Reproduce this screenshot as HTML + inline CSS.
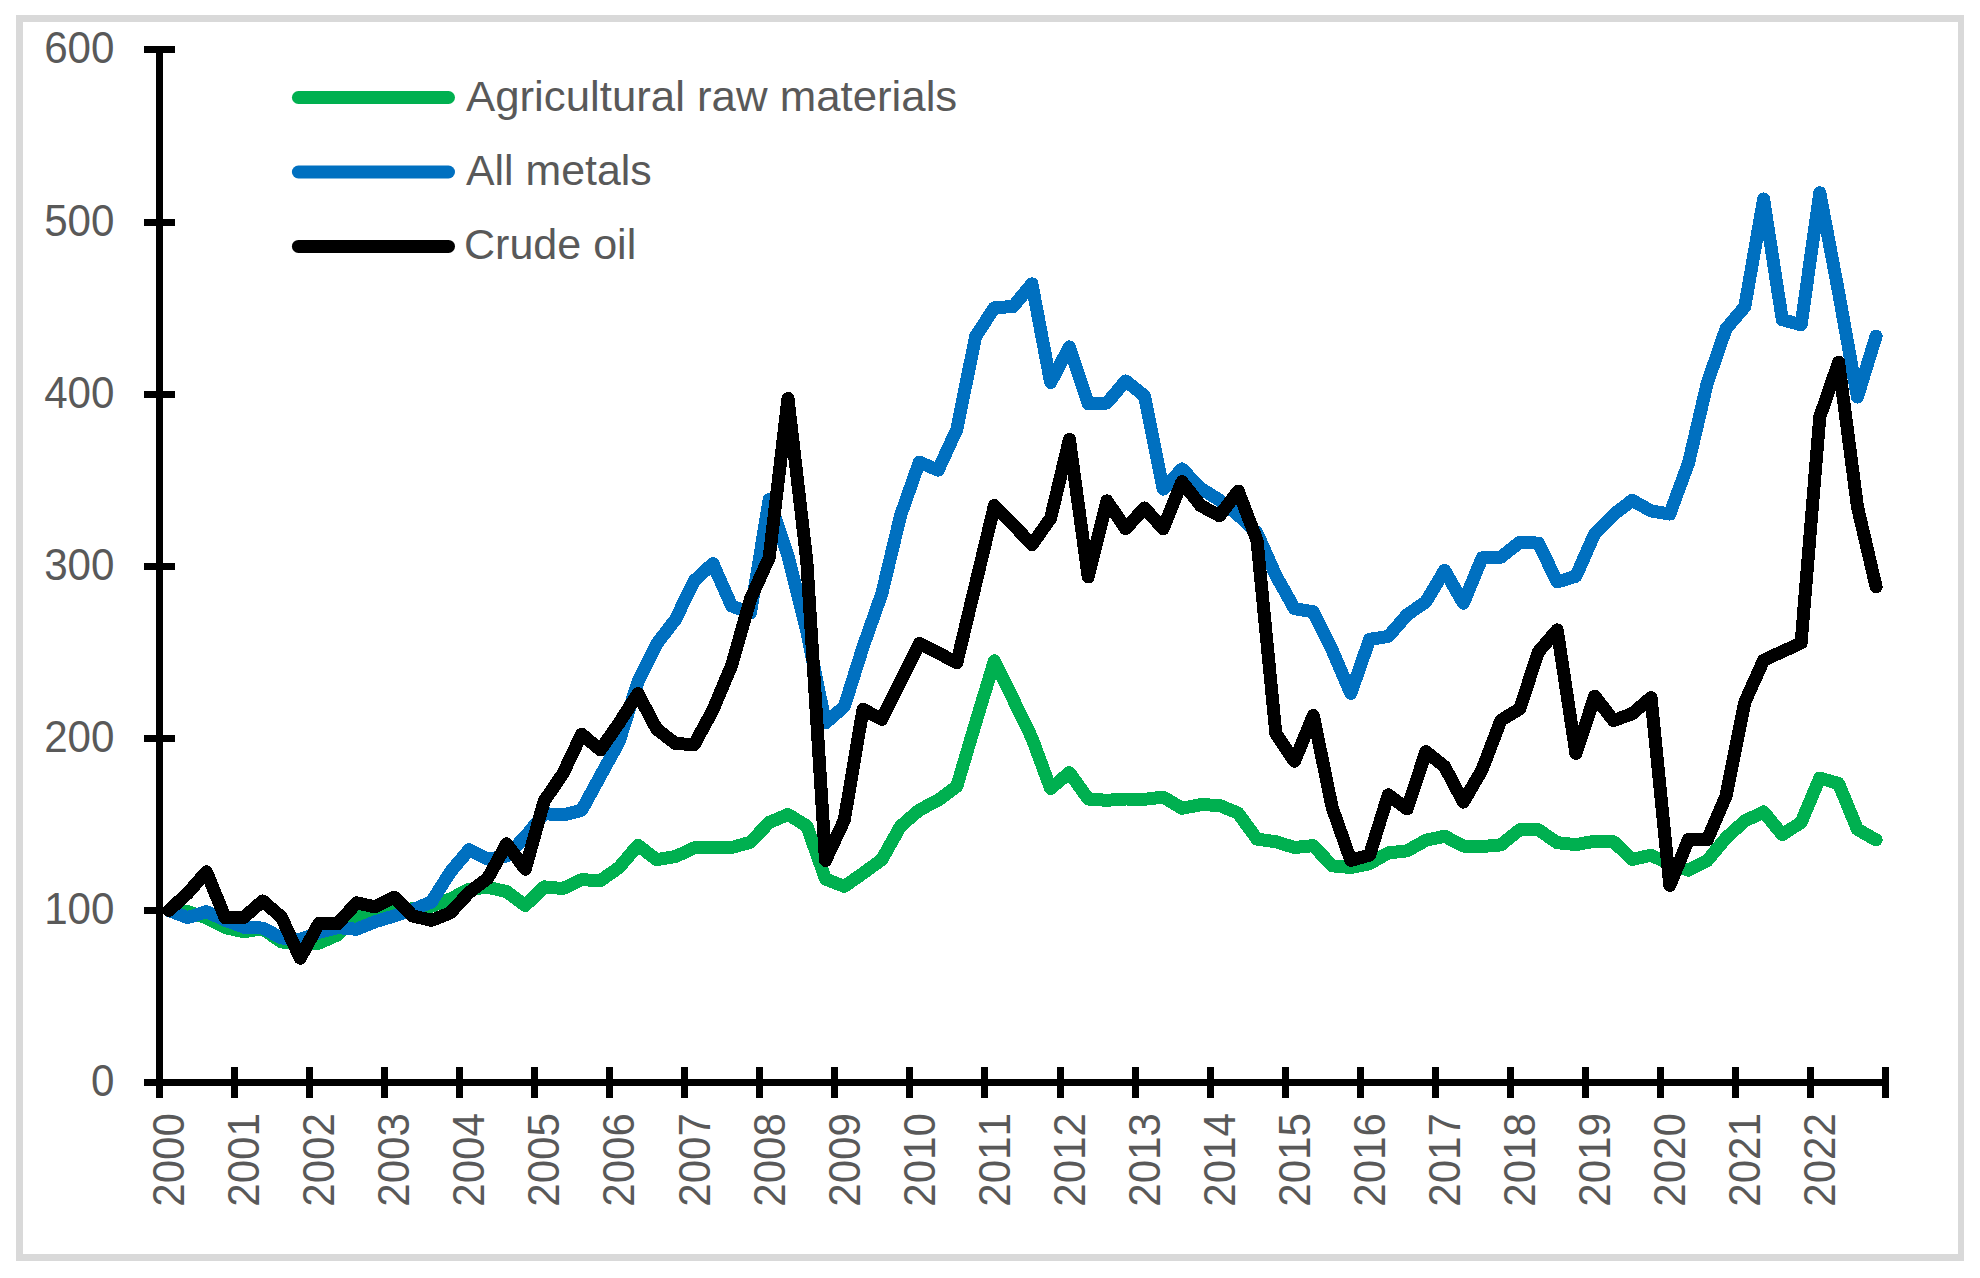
<!DOCTYPE html>
<html lang="en"><head><meta charset="utf-8"><title>Commodity price indices</title>
<style>html,body{margin:0;padding:0;background:#fff}svg{display:block}text{font-family:"Liberation Sans",Arial,sans-serif;fill:#595959;font-kerning:none}</style></head>
<body>
<svg width="1980" height="1278" viewBox="0 0 1980 1278">
<rect x="0" y="0" width="1980" height="1278" fill="#ffffff"/>
<path d="M16 15H1964V1261H16Z M23 22V1254H1958V22Z" fill="#d9d9d9" fill-rule="evenodd" shape-rendering="crispEdges"/>
<g fill="none" stroke-width="13" stroke-linejoin="round" stroke-linecap="round" shape-rendering="crispEdges">
<polyline stroke="#00b050" points="168.9,910.5 187.6,911.7 206.4,917.8 225.2,927.6 243.9,931.7 262.7,928.8 281.4,941.9 300.2,944.5 319.0,943.2 337.7,934.8 356.5,916.0 375.2,914.0 394.0,910.4 412.8,908.8 431.5,906.2 450.3,899.0 469.1,889.2 487.8,887.3 506.6,891.6 525.3,905.5 544.1,886.9 562.9,888.5 581.6,879.7 600.4,880.6 619.1,867.5 637.9,845.3 656.7,859.7 675.4,856.6 694.2,847.9 712.9,847.9 731.7,847.5 750.5,842.2 769.2,822.4 788.0,814.5 806.8,826.0 825.5,879.0 844.3,886.4 863.0,873.3 881.8,859.6 900.6,826.2 919.3,810.0 938.1,800.2 956.8,786.4 975.6,722.9 994.4,660.9 1013.1,699.1 1031.9,737.9 1050.6,788.5 1069.4,772.6 1088.2,799.0 1106.9,800.3 1125.7,799.0 1144.4,799.3 1163.2,797.1 1182.0,808.3 1200.7,804.7 1219.5,805.3 1238.2,813.3 1257.0,839.1 1275.8,841.7 1294.5,847.5 1313.3,845.6 1332.1,865.8 1350.8,867.5 1369.6,863.7 1388.3,852.9 1407.1,850.8 1425.9,840.3 1444.6,836.2 1463.4,846.1 1482.1,846.5 1500.9,844.9 1519.7,829.8 1538.4,829.8 1557.2,842.7 1575.9,844.6 1594.7,841.2 1613.5,841.7 1632.2,859.4 1651.0,855.3 1669.8,863.7 1688.5,870.2 1707.3,860.6 1726.0,837.9 1744.8,821.0 1763.6,811.9 1782.3,834.6 1801.1,822.4 1819.8,778.0 1838.6,783.6 1857.4,829.3 1876.1,839.9"/>
<polyline stroke="#0070c0" points="168.9,910.5 187.6,917.6 206.4,911.7 225.2,920.2 243.9,927.2 262.7,928.1 281.4,937.9 300.2,939.5 319.0,932.4 337.7,927.6 356.5,929.3 375.2,921.7 394.0,916.0 412.8,909.7 431.5,901.9 450.3,872.0 469.1,849.8 487.8,859.1 506.6,856.0 525.3,836.7 544.1,813.6 562.9,815.0 581.6,810.3 600.4,775.9 619.1,741.8 637.9,681.9 656.7,643.8 675.4,619.6 694.2,580.8 712.9,563.6 731.7,606.0 750.5,612.9 769.2,499.4 788.0,555.9 806.8,631.6 825.5,723.0 844.3,706.5 863.0,647.1 881.8,593.7 900.6,515.4 919.3,462.2 938.1,470.1 956.8,429.5 975.6,336.5 994.4,307.6 1013.1,306.6 1031.9,283.8 1050.6,382.5 1069.4,346.9 1088.2,403.7 1106.9,403.0 1125.7,380.9 1144.4,395.8 1163.2,489.1 1182.0,468.9 1200.7,488.4 1219.5,500.1 1238.2,515.1 1257.0,533.1 1275.8,575.3 1294.5,608.7 1313.3,611.8 1332.1,650.0 1350.8,693.4 1369.6,639.4 1388.3,636.4 1407.1,614.8 1425.9,601.8 1444.6,570.3 1463.4,603.2 1482.1,557.8 1500.9,557.2 1519.7,542.3 1538.4,543.1 1557.2,582.0 1575.9,576.2 1594.7,533.7 1613.5,514.7 1632.2,500.3 1651.0,510.9 1669.8,514.0 1688.5,463.1 1707.3,383.0 1726.0,328.8 1744.8,306.7 1763.6,199.0 1782.3,319.7 1801.1,324.8 1819.8,192.8 1838.6,292.5 1857.4,397.1 1876.1,336.0"/>
<polyline stroke="#000000" points="168.9,910.5 187.6,893.3 206.4,871.8 225.2,917.8 243.9,917.4 262.7,900.9 281.4,917.1 300.2,958.2 319.0,923.3 337.7,923.8 356.5,902.8 375.2,906.9 394.0,897.1 412.8,916.0 431.5,920.3 450.3,912.9 469.1,892.5 487.8,878.2 506.6,843.9 525.3,869.2 544.1,801.2 562.9,773.7 581.6,734.2 600.4,749.9 619.1,723.0 637.9,693.6 656.7,729.1 675.4,743.5 694.2,744.6 712.9,710.0 731.7,665.2 750.5,598.9 769.2,557.6 788.0,398.5 806.8,561.0 825.5,860.4 844.3,820.1 863.0,709.3 881.8,719.4 900.6,680.9 919.3,643.5 938.1,652.8 956.8,662.8 975.6,584.1 994.4,505.6 1013.1,524.5 1031.9,544.7 1050.6,518.3 1069.4,439.3 1088.2,576.9 1106.9,500.9 1125.7,528.7 1144.4,508.0 1163.2,528.7 1182.0,481.8 1200.7,505.6 1219.5,515.8 1238.2,491.0 1257.0,540.4 1275.8,733.2 1294.5,761.3 1313.3,715.5 1332.1,807.2 1350.8,860.4 1369.6,855.1 1388.3,794.8 1407.1,809.0 1425.9,751.6 1444.6,766.6 1463.4,802.1 1482.1,769.7 1500.9,720.3 1519.7,708.9 1538.4,651.9 1557.2,629.9 1575.9,753.5 1594.7,696.2 1613.5,720.6 1632.2,713.7 1651.0,697.6 1669.8,885.4 1688.5,839.6 1707.3,839.8 1726.0,796.0 1744.8,702.2 1763.6,660.2 1782.3,651.6 1801.1,643.0 1819.8,416.9 1838.6,362.2 1857.4,506.5 1876.1,586.9"/>
</g>
<g stroke="#000" stroke-width="7" fill="none" shape-rendering="crispEdges">
<line x1="159.5" y1="46" x2="159.5" y2="1098"/>
<line x1="144" y1="1082.5" x2="1889" y2="1082.5"/>
<line x1="144" y1="910.5" x2="175" y2="910.5"/>
<line x1="144" y1="738.5" x2="175" y2="738.5"/>
<line x1="144" y1="566.5" x2="175" y2="566.5"/>
<line x1="144" y1="394.5" x2="175" y2="394.5"/>
<line x1="144" y1="222.5" x2="175" y2="222.5"/>
<line x1="144" y1="49.5" x2="175" y2="49.5"/>
<line x1="234.5" y1="1067" x2="234.5" y2="1098"/>
<line x1="309.5" y1="1067" x2="309.5" y2="1098"/>
<line x1="384.5" y1="1067" x2="384.5" y2="1098"/>
<line x1="459.5" y1="1067" x2="459.5" y2="1098"/>
<line x1="534.5" y1="1067" x2="534.5" y2="1098"/>
<line x1="609.5" y1="1067" x2="609.5" y2="1098"/>
<line x1="684.5" y1="1067" x2="684.5" y2="1098"/>
<line x1="759.5" y1="1067" x2="759.5" y2="1098"/>
<line x1="834.5" y1="1067" x2="834.5" y2="1098"/>
<line x1="909.5" y1="1067" x2="909.5" y2="1098"/>
<line x1="984.5" y1="1067" x2="984.5" y2="1098"/>
<line x1="1060.5" y1="1067" x2="1060.5" y2="1098"/>
<line x1="1135.5" y1="1067" x2="1135.5" y2="1098"/>
<line x1="1210.5" y1="1067" x2="1210.5" y2="1098"/>
<line x1="1285.5" y1="1067" x2="1285.5" y2="1098"/>
<line x1="1360.5" y1="1067" x2="1360.5" y2="1098"/>
<line x1="1435.5" y1="1067" x2="1435.5" y2="1098"/>
<line x1="1510.5" y1="1067" x2="1510.5" y2="1098"/>
<line x1="1585.5" y1="1067" x2="1585.5" y2="1098"/>
<line x1="1660.5" y1="1067" x2="1660.5" y2="1098"/>
<line x1="1735.5" y1="1067" x2="1735.5" y2="1098"/>
<line x1="1810.5" y1="1067" x2="1810.5" y2="1098"/>
<line x1="1885.5" y1="1067" x2="1885.5" y2="1098"/>
</g>
<text transform="translate(114.5,1096.0) scale(0.967,1)" font-size="43.6" text-anchor="end">0</text>
<text transform="translate(114.5,924.0) scale(0.967,1)" font-size="43.6" text-anchor="end">100</text>
<text transform="translate(114.5,752.0) scale(0.967,1)" font-size="43.6" text-anchor="end">200</text>
<text transform="translate(114.5,580.0) scale(0.967,1)" font-size="43.6" text-anchor="end">300</text>
<text transform="translate(114.5,408.0) scale(0.967,1)" font-size="43.6" text-anchor="end">400</text>
<text transform="translate(114.5,236.0) scale(0.967,1)" font-size="43.6" text-anchor="end">500</text>
<text transform="translate(114.5,63.0) scale(0.967,1)" font-size="43.6" text-anchor="end">600</text>
<text transform="translate(184.2,1113.0) rotate(-90) scale(0.967,1)" font-size="43.6" text-anchor="end">2000</text>
<text transform="translate(259.2,1113.0) rotate(-90) scale(0.967,1)" font-size="43.6" text-anchor="end">2001</text>
<text transform="translate(334.3,1113.0) rotate(-90) scale(0.967,1)" font-size="43.6" text-anchor="end">2002</text>
<text transform="translate(409.3,1113.0) rotate(-90) scale(0.967,1)" font-size="43.6" text-anchor="end">2003</text>
<text transform="translate(484.4,1113.0) rotate(-90) scale(0.967,1)" font-size="43.6" text-anchor="end">2004</text>
<text transform="translate(559.4,1113.0) rotate(-90) scale(0.967,1)" font-size="43.6" text-anchor="end">2005</text>
<text transform="translate(634.4,1113.0) rotate(-90) scale(0.967,1)" font-size="43.6" text-anchor="end">2006</text>
<text transform="translate(709.5,1113.0) rotate(-90) scale(0.967,1)" font-size="43.6" text-anchor="end">2007</text>
<text transform="translate(784.5,1113.0) rotate(-90) scale(0.967,1)" font-size="43.6" text-anchor="end">2008</text>
<text transform="translate(859.6,1113.0) rotate(-90) scale(0.967,1)" font-size="43.6" text-anchor="end">2009</text>
<text transform="translate(934.6,1113.0) rotate(-90) scale(0.967,1)" font-size="43.6" text-anchor="end">2010</text>
<text transform="translate(1009.7,1113.0) rotate(-90) scale(0.967,1)" font-size="43.6" text-anchor="end">2011</text>
<text transform="translate(1084.7,1113.0) rotate(-90) scale(0.967,1)" font-size="43.6" text-anchor="end">2012</text>
<text transform="translate(1159.7,1113.0) rotate(-90) scale(0.967,1)" font-size="43.6" text-anchor="end">2013</text>
<text transform="translate(1234.8,1113.0) rotate(-90) scale(0.967,1)" font-size="43.6" text-anchor="end">2014</text>
<text transform="translate(1309.8,1113.0) rotate(-90) scale(0.967,1)" font-size="43.6" text-anchor="end">2015</text>
<text transform="translate(1384.9,1113.0) rotate(-90) scale(0.967,1)" font-size="43.6" text-anchor="end">2016</text>
<text transform="translate(1459.9,1113.0) rotate(-90) scale(0.967,1)" font-size="43.6" text-anchor="end">2017</text>
<text transform="translate(1535.0,1113.0) rotate(-90) scale(0.967,1)" font-size="43.6" text-anchor="end">2018</text>
<text transform="translate(1610.0,1113.0) rotate(-90) scale(0.967,1)" font-size="43.6" text-anchor="end">2019</text>
<text transform="translate(1685.0,1113.0) rotate(-90) scale(0.967,1)" font-size="43.6" text-anchor="end">2020</text>
<text transform="translate(1760.1,1113.0) rotate(-90) scale(0.967,1)" font-size="43.6" text-anchor="end">2021</text>
<text transform="translate(1835.1,1113.0) rotate(-90) scale(0.967,1)" font-size="43.6" text-anchor="end">2022</text>
<line x1="298.4" y1="97.5" x2="448.5" y2="97.5" stroke="#00b050" stroke-width="13" stroke-linecap="round"/>
<text transform="translate(466.0,110.8) scale(1.018,1)" font-size="43">Agricultural raw materials</text>
<line x1="298.4" y1="172.0" x2="448.5" y2="172.0" stroke="#0070c0" stroke-width="13" stroke-linecap="round"/>
<text transform="translate(466.0,184.9) scale(0.997,1)" font-size="43">All metals</text>
<line x1="298.4" y1="246.4" x2="448.5" y2="246.4" stroke="#000000" stroke-width="13" stroke-linecap="round"/>
<text transform="translate(464.0,259.2) scale(1.001,1)" font-size="43">Crude oil</text>
</svg>
</body></html>
